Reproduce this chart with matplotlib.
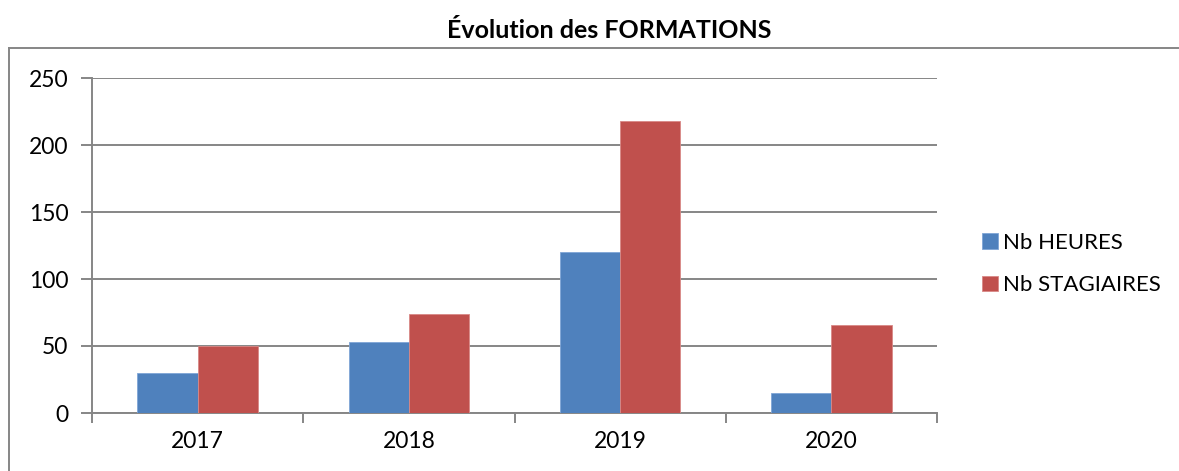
import matplotlib
matplotlib.use("Agg")
import matplotlib.pyplot as plt
from matplotlib.lines import Line2D
import numpy as np

years = ["2017", "2018", "2019", "2020"]
heures = [30, 53, 120, 15]
stagiaires = [50, 74, 218, 66]
series_labels = ["Nb HEURES", "Nb STAGIAIRES"]
title = "Évolution des FORMATIONS"
yticks = [0, 50, 100, 150, 200, 250]

plt.rcParams['font.family'] = ['Lato', 'DejaVu Sans']

W, H = 1179, 471
fig = plt.figure(figsize=(W/100, H/100), dpi=100)
ax = fig.add_axes([92/W, 1-413/H, (937-92)/W, (413-78)/H])

gray = "#868686"
x = np.arange(len(years))
bw = 1/3.5
b1 = ax.bar(x - bw/2, heures, bw, color="#4F81BD", edgecolor="#7FA5D6", linewidth=0.6, zorder=3, label=series_labels[0])
b2 = ax.bar(x + bw/2, stagiaires, bw, color="#C0504D", edgecolor="#D98886", linewidth=0.6, zorder=3, label=series_labels[1])

ax.set_xlim(-0.5, len(years) - 0.5)
ax.set_ylim(0, 250)
ax.set_yticks(yticks)
ax.set_yticklabels([str(v) for v in yticks])
ax.yaxis.grid(True, color=gray, linewidth=1.4, zorder=0)
ax.set_axisbelow(True)

ax.set_xticks(np.arange(-0.5, len(years) + 0.5, 1.0))
ax.set_xticklabels([])
ax.set_xticks(x, minor=True)
ax.set_xticklabels(years, minor=True)
ax.tick_params(axis='x', which='major', length=7, width=1.4, color=gray, direction='out')
ax.tick_params(axis='x', which='minor', length=0, pad=13, labelsize=16.5)
ax.tick_params(axis='y', length=8, width=1.4, color=gray, direction='out', pad=9, labelsize=16.5)

for s in ["top", "right"]:
    ax.spines[s].set_visible(False)
for s in ["left", "bottom"]:
    ax.spines[s].set_color(gray)
    ax.spines[s].set_linewidth(1.4)

fig.text(609/W, 1-31/H, title, ha="center", va="center", fontsize=18, fontweight="bold")

fig.legend(handles=[b1, b2], labels=series_labels, loc="center left",
           bbox_to_anchor=(962/W, 1-264/H), frameon=False, fontsize=16,
           handlelength=0.7, handleheight=0.7, handletextpad=0.25, labelspacing=1.0)

fig.add_artist(Line2D([9/W, 1.0], [1-48/H, 1-48/H], transform=fig.transFigure, color=gray, linewidth=1.4))
fig.add_artist(Line2D([9/W, 9/W], [0.0, 1-48/H], transform=fig.transFigure, color=gray, linewidth=1.4))

fig.savefig("out.png", dpi=100)
